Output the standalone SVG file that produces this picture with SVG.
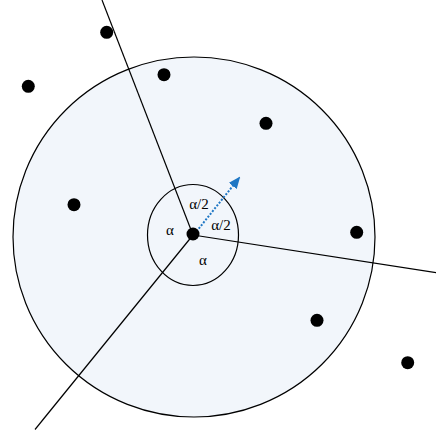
<svg xmlns="http://www.w3.org/2000/svg" width="436" height="435" viewBox="0 0 436 435">
<style>
.ln{stroke:#000;stroke-width:1.2;fill:none}
.pt{fill:#000}
.lbl{font-family:"Liberation Serif","Times New Roman",serif;font-size:15px;fill:#000;text-anchor:middle}
</style>
<defs>
<marker id="ah" viewBox="0 0 10 10" refX="9" refY="5" markerWidth="6" markerHeight="5" orient="auto" markerUnits="strokeWidth" preserveAspectRatio="none">
<path d="M0,0 L10,5 L0,10 z" fill="#1F77C4"/>
</marker>
</defs>
<rect width="436" height="435" fill="#fff"/>
<g id="range">
<ellipse cx="194" cy="237" rx="181" ry="180" fill="#F2F6FB" stroke="#000" stroke-width="1.2"/>
</g>
<g id="sector">
<ellipse cx="193" cy="235" rx="45.5" ry="50.5" class="ln"/>
</g>
<g id="connectors">
<line x1="193" y1="235" x2="102" y2="0" class="ln"/>
<line x1="193" y1="235" x2="436" y2="272.7" class="ln"/>
<line x1="193" y1="235" x2="35" y2="429.5" class="ln"/>
<line x1="196.5" y1="231.5" x2="239.5" y2="177.5" stroke="#1F77C4" stroke-width="2" stroke-dasharray="2 1.6" marker-end="url(#ah)"/>
</g>
<g id="center"><circle cx="193" cy="234" r="6.5" class="pt"/></g>
<g id="nodes">
<circle id="n1" cx="106.7" cy="32.3" r="6.5" class="pt"/>
<circle id="n2" cx="28.3" cy="86.3" r="6.5" class="pt"/>
<circle id="n3" cx="164" cy="74.7" r="6.5" class="pt"/>
<circle id="n4" cx="266" cy="123.3" r="6.5" class="pt"/>
<circle id="n5" cx="74" cy="204.7" r="6.5" class="pt"/>
<circle id="n6" cx="356.7" cy="232.3" r="6.5" class="pt"/>
<circle id="n7" cx="317" cy="320.3" r="6.5" class="pt"/>
<circle id="n8" cx="407.7" cy="362.7" r="6.5" class="pt"/>
</g>
<g id="labels">
<text x="199" y="208.5" class="lbl">α/2</text>
<text x="221" y="230" class="lbl">α/2</text>
<text x="170" y="235" class="lbl">α</text>
<text x="203" y="265" class="lbl">α</text>
</g>
</svg>
